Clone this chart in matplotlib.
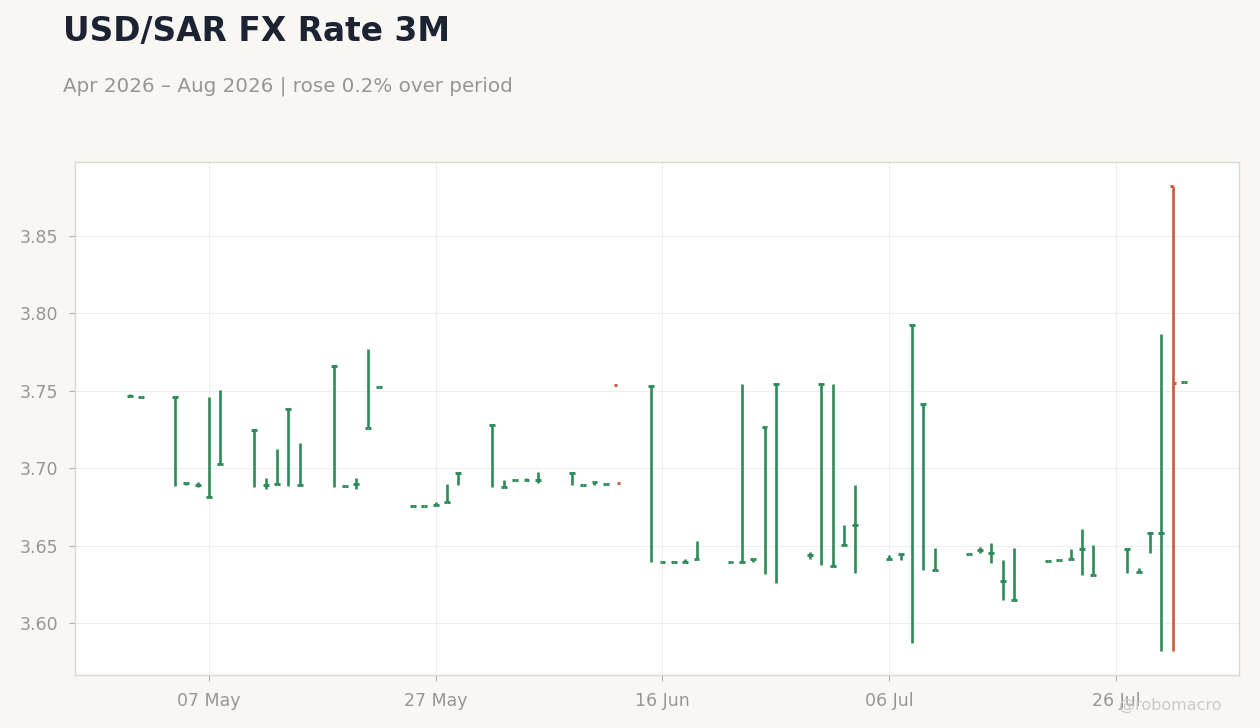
import numpy as np
import pandas as pd
import matplotlib
matplotlib.use("Agg")
import matplotlib.pyplot as plt
import matplotlib.dates as mdates

# daily OHLC (NaN = no high/low drawn)
dates = ["2026-04-30", "2026-05-01", "2026-05-04", "2026-05-05", "2026-05-06", "2026-05-07",
         "2026-05-08", "2026-05-11", "2026-05-12", "2026-05-13", "2026-05-14", "2026-05-15",
         "2026-05-18", "2026-05-19", "2026-05-20", "2026-05-21", "2026-05-22", "2026-05-25",
         "2026-05-26", "2026-05-27", "2026-05-28", "2026-05-29", "2026-06-01", "2026-06-02",
         "2026-06-03", "2026-06-04", "2026-06-05", "2026-06-08", "2026-06-09", "2026-06-10",
         "2026-06-11", "2026-06-12", "2026-06-15", "2026-06-16", "2026-06-17", "2026-06-18",
         "2026-06-19", "2026-06-22", "2026-06-23", "2026-06-24", "2026-06-25", "2026-06-26",
         "2026-06-29", "2026-06-30", "2026-07-01", "2026-07-02", "2026-07-03", "2026-07-06",
         "2026-07-07", "2026-07-08", "2026-07-09", "2026-07-10", "2026-07-13", "2026-07-14",
         "2026-07-15", "2026-07-16", "2026-07-17", "2026-07-20", "2026-07-21", "2026-07-22",
         "2026-07-23", "2026-07-24", "2026-07-27", "2026-07-28", "2026-07-29", "2026-07-30",
         "2026-07-31", "2026-08-01"]

opens = [3.7468, 3.7462, 3.7460, 3.6906, 3.6893, 3.6816, 3.7027, 3.7247, 3.6891, 3.6898,
         3.7385, 3.6891, 3.7660, 3.6887, 3.6900, 3.7260, 3.7527, 3.6758, 3.6758, 3.6764,
         3.6782, 3.6971, 3.7281, 3.6879, 3.6926, 3.6926, 3.6926, 3.6971, 3.6891, 3.6913,
         3.6898, 3.7540, 3.7533, 3.6396, 3.6396, 3.6396, 3.6413, 3.6396, 3.6396, 3.6415,
         3.7268, 3.7546, 3.6441, 3.7546, 3.6368, 3.6504, 3.6633, 3.6413, 3.6444, 3.7927,
         3.7417, 3.6342, 3.6448, 3.6474, 3.6454, 3.6273, 3.6149, 3.6402, 3.6409, 3.6415,
         3.6480, 3.6310, 3.6480, 3.6331, 3.6583, 3.6583, 3.8823, 3.7559]

highs = [3.7477, 3.7462, 3.7465, 3.6906, 3.6909, 3.7458, 3.7505, 3.7250, 3.6935, 3.7124,
         3.7388, 3.7163, 3.7667, 3.6887, 3.6937, 3.7770, 3.7527, 3.6758, 3.6758, 3.6780,
         3.6898, 3.6973, 3.7283, 3.6924, 3.6926, 3.6935, 3.6975, 3.6973, 3.6891, 3.6913,
         3.6898, np.nan, 3.7535, 3.6396, 3.6396, 3.6413, 3.6530, 3.6396, 3.7544, 3.6415,
         3.7270, 3.7548, 3.6459, 3.7548, 3.7542, 3.6633, 3.6891, 3.6439, 3.6444, 3.7929,
         3.7419, 3.6484, 3.6448, 3.6491, 3.6517, 3.6407, 3.6484, 3.6402, 3.6409, 3.6478,
         3.6607, 3.6504, 3.6482, 3.6355, 3.6585, 3.7867, 3.8823, 3.7559]

lows = [3.7468, 3.7462, 3.6887, 3.6890, 3.6881, 3.6812, 3.7024, 3.6881, 3.6868, 3.6896,
        3.6887, 3.6889, 3.6881, 3.6887, 3.6868, 3.7258, 3.7527, 3.6758, 3.6758, 3.6764,
        3.6780, 3.6891, 3.6881, 3.6877, 3.6926, 3.6926, 3.6906, 3.6891, 3.6891, 3.6893,
        3.6898, np.nan, 3.6396, 3.6396, 3.6396, 3.6396, 3.6411, 3.6396, 3.6394, 3.6396,
        3.6319, 3.6260, 3.6415, 3.6375, 3.6366, 3.6502, 3.6325, 3.6413, 3.6407, 3.5873,
        3.6342, 3.6340, 3.6448, 3.6454, 3.6388, 3.6149, 3.6147, 3.6402, 3.6409, 3.6415,
        3.6310, 3.6308, 3.6325, 3.6331, 3.6454, 3.5819, 3.5819, 3.7559]

closes = [3.7468, 3.7462, 3.7462, 3.6906, 3.6893, 3.6816, 3.7027, 3.7247, 3.6891, 3.6898,
          3.7385, 3.6891, 3.7660, 3.6887, 3.6900, 3.7260, 3.7527, 3.6758, 3.6758, 3.6764,
          3.6782, 3.6971, 3.7281, 3.6879, 3.6926, 3.6926, 3.6926, 3.6971, 3.6891, 3.6913,
          3.6898, 3.6906, 3.7533, 3.6396, 3.6396, 3.6396, 3.6413, 3.6396, 3.6396, 3.6415,
          3.7268, 3.7546, 3.6441, 3.7546, 3.6368, 3.6504, 3.6633, 3.6413, 3.6444, 3.7927,
          3.7417, 3.6342, 3.6448, 3.6474, 3.6454, 3.6273, 3.6149, 3.6402, 3.6409, 3.6415,
          3.6480, 3.6310, 3.6480, 3.6331, 3.6583, 3.6583, 3.7552, 3.7559]

xtick_dates = ["2026-05-07", "2026-05-27", "2026-06-16", "2026-07-06", "2026-07-26"]
yticks = [3.60, 3.65, 3.70, 3.75, 3.80, 3.85]

UP = "#2e8b57"
DOWN = "#cc5a3c"
BG = "#f8f7f4"
MUTED = "#9a9590"

x = mdates.date2num(pd.to_datetime(dates))
o = np.array(opens)
h = np.array(highs)
l = np.array(lows)
c = np.array(closes)
cols = [UP if cc >= oo else DOWN for oo, cc in zip(o, c)]

fig = plt.figure(figsize=(12.6, 7.28), dpi=100, facecolor=BG)
ax = fig.add_axes([75 / 1260, 1 - 675 / 728, (1239 - 75) / 1260, (675 - 162) / 728])
ax.set_facecolor("white")

tw = 0.26  # tick half-width in days
ax.vlines(x, l, h, colors=cols, lw=1.9, capstyle="butt", zorder=3)
ax.hlines(o, x - tw, x, colors=cols, lw=2.1, capstyle="butt", zorder=3)
ax.hlines(c, x, x + tw, colors=cols, lw=2.1, capstyle="butt", zorder=3)

x0 = mdates.date2num(pd.Timestamp("2026-05-07"))
ax.set_xlim(x0 - 11.82, x0 + 80 + 10.85)
ax.set_ylim(3.5664, 3.8978)

ax.set_xticks(mdates.date2num(pd.to_datetime(xtick_dates)))
ax.xaxis.set_major_formatter(mdates.DateFormatter("%d %b"))
ax.set_yticks(yticks)
ax.yaxis.set_major_formatter(plt.FormatStrFormatter("%.2f"))

ax.grid(True, color="#eeeeee", lw=0.8, zorder=0)
ax.set_axisbelow(True)
for s in ax.spines.values():
    s.set_color("#ddd8cf")
    s.set_linewidth(1.0)
ax.tick_params(axis="both", colors="#b5b0aa", labelcolor=MUTED, labelsize=12.5,
               length=4, width=0.8)
ax.tick_params(axis="x", pad=8)
ax.tick_params(axis="y", pad=8)

fig.text(63 / 1260, 1 - 41 / 728, "USD/SAR FX Rate 3M", fontsize=23.7, fontweight="bold",
         color="#1c2333", va="baseline", ha="left")
fig.text(63 / 1260, 1 - 92 / 728, "Apr 2026 \u2013 Aug 2026 | rose 0.2% over period",
         fontsize=14.3, color=MUTED, va="baseline", ha="left")
fig.text(1222 / 1260, 1 - 705 / 728, "@robomacro", fontsize=11.5, color="#cdc9c4",
         va="center", ha="right")

fig.savefig("out.png", dpi=100, facecolor=BG)
